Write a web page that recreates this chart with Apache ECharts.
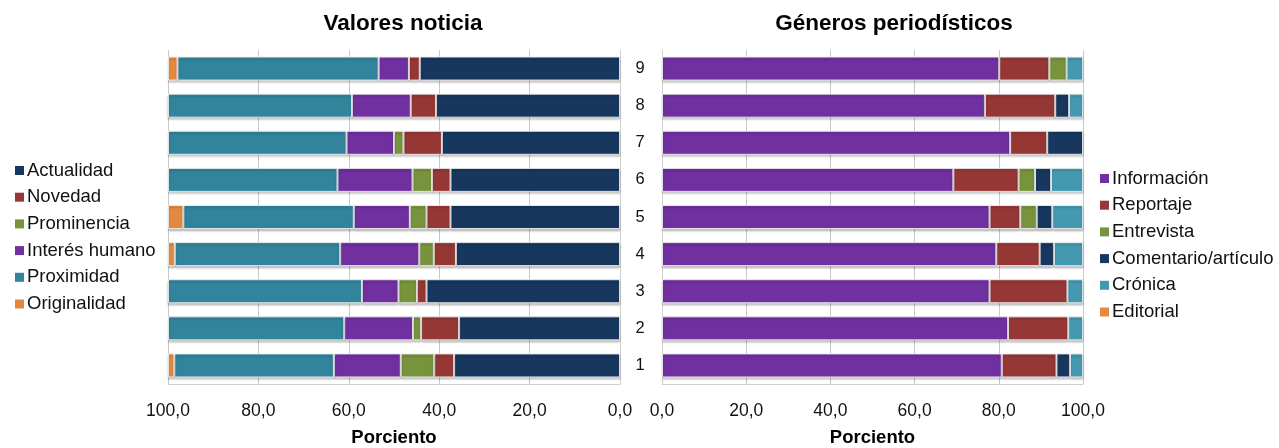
<!DOCTYPE html>
<html>
<head>
<meta charset="utf-8">
<script src="https://cdn.jsdelivr.net/npm/echarts@6/dist/echarts.min.js"></script>
<style>
html,body{margin:0;padding:0;background:#fff;}
#c{width:1279px;height:448px;}
</style>
</head>
<body>
<div id="c"></div>
<script>
var categories = ['1','2','3','4','5','6','7','8','9'];
var xTicks = [0, 20, 40, 60, 80, 100];

// Valores noticia (left)
var actualidad   = [36.7, 35.6, 42.8, 36.3, 37.5, 37.5, 39.4, 40.7, 44.3];
var novedad      = [4.4, 8.4, 2.1, 4.9, 5.3, 4.1, 8.5, 5.6, 2.4];
var prominencia  = [7.4, 1.8, 4.1, 3.2, 3.7, 4.3, 2.1, 0, 0];
var interes      = [14.8, 15.2, 8.1, 17.5, 12.4, 16.6, 10.5, 13.0, 6.7];
var proximidad   = [35.3, 39.0, 42.9, 36.6, 37.7, 37.5, 39.5, 40.7, 44.5];
var originalidad = [1.4, 0, 0, 1.5, 3.4, 0, 0, 0, 2.1];

// Géneros periodísticos (right)
var informacion  = [80.7, 82.2, 77.8, 79.4, 77.8, 69.2, 82.7, 76.7, 80.1];
var reportaje    = [13.0, 14.3, 18.5, 10.3, 7.3, 15.5, 8.8, 16.7, 11.9];
var entrevista   = [0, 0, 0, 0, 3.9, 3.9, 0, 0, 4.1];
var comentario   = [3.2, 0, 0, 3.4, 3.7, 3.8, 8.5, 3.3, 0];
var cronica      = [3.1, 3.5, 3.7, 6.9, 7.3, 7.6, 0, 3.3, 3.9];
var editorial    = [0, 0, 0, 0, 0, 0, 0, 0, 0];

var leftNames  = ['Actualidad','Novedad','Prominencia','Interés humano','Proximidad','Originalidad'];
var leftData   = [actualidad, novedad, prominencia, interes, proximidad, originalidad];
var rightNames = ['Información','Reportaje','Entrevista','Comentario/artículo','Crónica','Editorial'];
var rightData  = [informacion, reportaje, entrevista, comentario, cronica, editorial];

var C = {
  navy:'#17375e', red:'#953735', green:'#77933c', purple:'#7030a0',
  teal:'#31849b', cyan:'#4399b0', orange:'#e3893f'
};
var leftColors  = [C.navy, C.red, C.green, C.purple, C.teal, C.orange];
var rightColors = [C.purple, C.red, C.green, C.navy, C.cyan, C.orange];

var FONT = "'Liberation Sans', Arial, sans-serif";
function fmt(v){ return v.toFixed(1).replace('.', ','); }
function clean(arr){ return arr.map(function(v){ return v === 0 ? null : v; }); }

function mkSeries(names, data, colors, idx, stack){
  return names.map(function(n, i){
    return {
      name: n, type: 'bar', stack: stack,
      xAxisIndex: idx, yAxisIndex: idx,
      barWidth: 24,
      data: clean(data[i]),
      itemStyle: {
        color: colors[i],
        borderColor: 'rgba(235,235,235,0.9)', borderWidth: 1,
        shadowColor: 'rgba(0,0,0,0.22)', shadowBlur: 2, shadowOffsetY: 2
      },
      emphasis: { disabled: true },
      animation: false
    };
  });
}

function xAxisCfg(idx, inverse){
  return {
    type: 'value', gridIndex: idx, min: 0, max: 100, interval: 20, inverse: inverse,
    name: 'Porciento', nameLocation: 'middle', nameGap: 44,
    nameTextStyle: { fontFamily: FONT, fontSize: 18.5, fontWeight: 'bold', color: '#000' },
    axisLine: { show: true, lineStyle: { color: '#d0d0d0' } },
    axisTick: { show: false },
    splitLine: { show: true, lineStyle: { color: '#c8c8c8', width: 1 } },
    axisLabel: { formatter: fmt, fontFamily: FONT, fontSize: 17.5, color: '#111', margin: 18 }
  };
}

var legendText = { fontFamily: FONT, fontSize: 18.5, color: '#111', lineHeight: 18, padding: [0,0,0,-2] };
var legendItem = { borderWidth: 0, shadowBlur: 0, shadowOffsetY: 0, shadowColor: 'transparent' };

var chart = echarts.init(document.getElementById('c'), null, { renderer: 'canvas' });
chart.setOption({
  backgroundColor: '#fff',
  animation: false,
  title: [
    { text: 'Valores noticia', left: 398, top: 7, textAlign: 'center',
      textStyle: { fontFamily: FONT, fontSize: 22.5, fontWeight: 'bold', color: '#000' } },
    { text: 'Géneros periodísticos', left: 889, top: 7, textAlign: 'center',
      textStyle: { fontFamily: FONT, fontSize: 22.5, fontWeight: 'bold', color: '#000' } }
  ],
  legend: [
    { data: leftNames, orient: 'vertical', left: 10, top: 156, itemWidth: 9, itemHeight: 9,
      itemGap: 7.7, icon: 'rect', itemStyle: legendItem, textStyle: legendText },
    { data: rightNames, orient: 'vertical', left: 1095, top: 164, itemWidth: 9, itemHeight: 9,
      itemGap: 7.7, icon: 'rect', itemStyle: legendItem, textStyle: legendText }
  ],
  grid: [
    { left: 168, width: 452, top: 50, height: 334, containLabel: false, outerBoundsMode: 'none' },
    { left: 662, width: 421, top: 50, height: 334, containLabel: false, outerBoundsMode: 'none' }
  ],
  xAxis: [ xAxisCfg(0, true), xAxisCfg(1, false) ],
  yAxis: [
    { type: 'category', gridIndex: 0, data: categories, position: 'right',
      axisLine: { show: true, lineStyle: { color: '#d0d0d0' } },
      axisTick: { show: false },
      axisLabel: { fontFamily: FONT, fontSize: 16.5, color: '#111', align: 'center', margin: 20 } },
    { type: 'category', gridIndex: 1, data: categories, position: 'left',
      axisLine: { show: true, lineStyle: { color: '#d0d0d0' } },
      axisTick: { show: false },
      axisLabel: { show: false } }
  ],
  series: mkSeries(leftNames, leftData, leftColors, 0, 'L')
    .concat(mkSeries(rightNames, rightData, rightColors, 1, 'R'))
});
</script>
</body>
</html>
